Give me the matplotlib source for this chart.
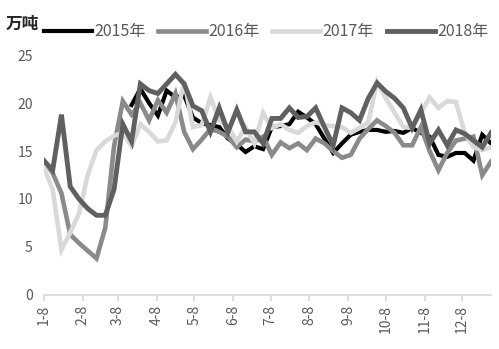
import numpy as np
import matplotlib
matplotlib.use("Agg")
import matplotlib.pyplot as plt
from datetime import date

plt.rcParams['font.family'] = ['Noto Sans CJK SC', 'DejaVu Sans']

# weekly data, first point on Jan 8, one point per week
years = ['2015年', '2016年', '2017年', '2018年']
nan = np.nan
y2015 = [nan, nan, nan, nan, nan, nan, nan, nan, nan, nan,
         19.8, 21.5, 20.0, 18.7, 21.3, 20.6, 20.8, 18.5, 17.9, 17.7,
         17.5, 16.3, 15.7, 14.9, 15.5, 15.2, 17.5, 17.6, 17.8, 19.1,
         18.5, 17.8, 16.3, 14.8, 15.8, 16.7, 17.0, 17.2, 17.2, 17.0,
         17.1, 16.9, 17.4, 16.9, 16.5, 14.6, 14.4, 14.8, 14.8, 14.0,
         16.7, 15.8]
y2016 = [14.0, 12.7, 10.6, 6.3, 5.4, 4.6, 3.8, 7.0, 15.5, 20.2,
         18.8, 20.0, 18.2, 20.3, 19.0, 21.0, 17.0, 15.2, 16.2, 17.3,
         17.0, 16.5, 15.4, 16.2, 16.0, 16.5, 14.6, 15.9, 15.3, 15.8,
         15.1, 16.3, 15.8, 15.0, 14.3, 14.6, 16.3, 17.3, 18.2, 17.6,
         16.9, 15.6, 15.6, 17.5, 15.0, 13.0, 14.8, 16.1, 16.3, 16.5,
         12.5, 13.9]
y2017 = [13.3, 11.0, 4.7, 6.5, 8.5, 12.5, 15.1, 16.0, 16.6, 16.9,
         15.5, 17.8, 17.0, 16.0, 16.1, 18.0, 22.3, 17.5, 17.7, 20.6,
         18.2, 17.5, 16.0, 17.5, 15.8, 19.0, 17.4, 17.8, 17.2, 16.9,
         17.6, 18.0, 17.7, 17.6, 17.5, 16.9, 17.4, 18.0, 22.2, 20.5,
         19.0, 17.5, 17.4, 19.0, 20.6, 19.5, 20.2, 20.1, 16.9, 15.4,
         15.1, 15.4]
y2018 = [14.0, 13.0, 18.8, 11.3, 10.0, 9.0, 8.3, 8.3, 11.0, 17.8,
         16.0, 22.0, 21.3, 21.0, 22.0, 23.0, 22.0, 19.7, 19.2, 17.0,
         19.5, 17.0, 19.3, 17.0, 17.0, 15.8, 18.4, 18.4, 19.5, 18.5,
         18.6, 19.5, 17.5, 15.6, 19.5, 19.0, 18.2, 20.5, 22.1, 21.2,
         20.5, 19.5, 17.4, 19.3, 15.8, 17.2, 15.6, 17.2, 16.8, 16.1,
         15.4, 16.9]
series = [y2015, y2016, y2017, y2018]
colors = ['#000000', '#8a8a8a', '#d9d9d9', '#606060']
widths = [3.0, 3.3, 3.3, 3.5]

month_labels = ['%d-8' % m for m in range(1, 13)]
start = date(2018, 1, 8)
tick_pos = [(date(2018, m, 8) - start).days for m in range(1, 13)]
days = np.arange(52) * 7

fig = plt.figure(figsize=(4.99, 3.49), dpi=100)
ax = fig.add_axes([0.088, 0.155, 0.896, 0.687])

for name, vals, c, w in zip(years, series, colors, widths):
    ax.plot(days, vals, color=c, lw=w, label=name, solid_joinstyle='miter')

ax.set_xlim(0, days[-1])
ax.set_ylim(0, 25)
ax.set_yticks(range(0, 26, 5))
ax.set_xticks(tick_pos)
ax.set_xticklabels(month_labels, rotation=90)

for s in ['top', 'right', 'left']:
    ax.spines[s].set_visible(False)
ax.spines['bottom'].set_color('#d9d9d9')
ax.spines['bottom'].set_linewidth(1.2)
ax.tick_params(axis='y', length=0, labelsize=10, labelcolor='#595959', pad=8)
ax.tick_params(axis='x', length=4, color='#d9d9d9', width=1.2,
               labelsize=10, labelcolor='#595959', pad=3)

fig.text(0.012, 0.918, '万吨', fontsize=12, fontweight='bold', color='#262626')
ax.legend(loc='lower left', bbox_to_anchor=(-0.015, 1.035), ncol=4, frameon=False,
          fontsize=11.5, labelcolor='#595959', handlelength=3.0,
          handletextpad=0.15, columnspacing=0.8, borderaxespad=0)

fig.savefig('out.png', dpi=100)
